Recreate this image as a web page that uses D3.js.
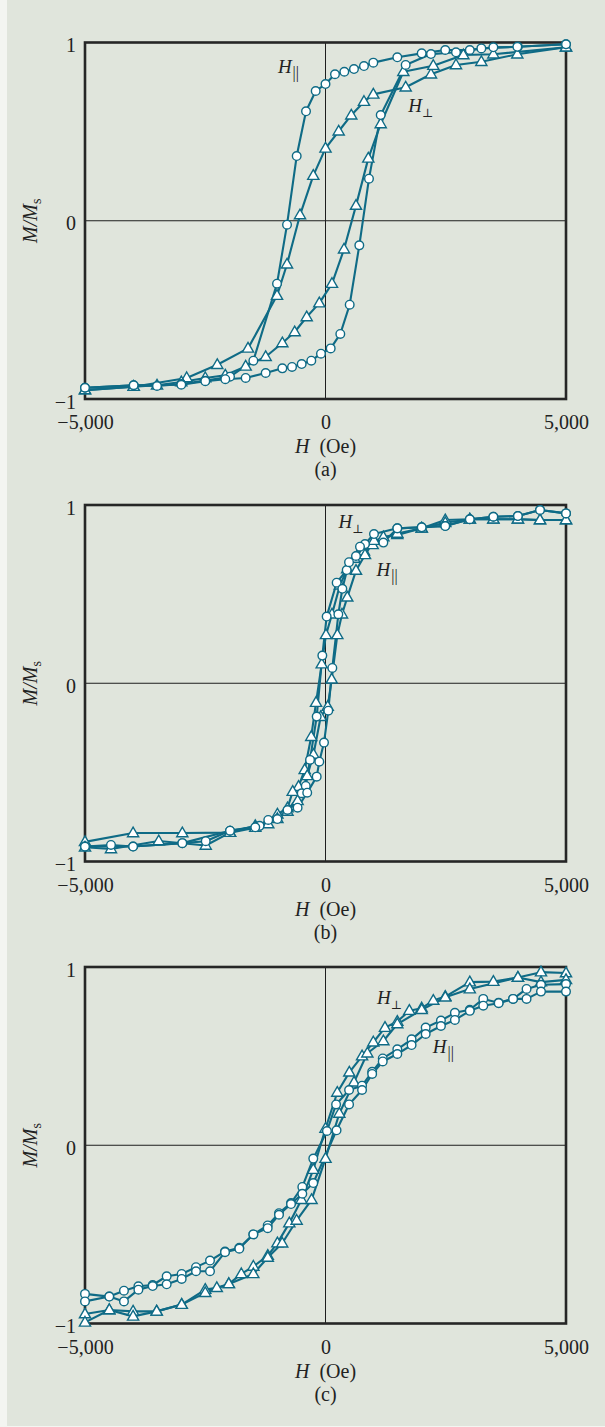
<!DOCTYPE html>
<html>
<head>
<meta charset="utf-8">
<script src="https://cdn.jsdelivr.net/npm/d3@7"></script>
<style>
  html, body { margin: 0; padding: 0; background: #f3f5f1; }
  svg { display: block; }
</style>
</head>
<body>
<script>
// Hysteresis loops M/Ms vs H for fields parallel (circles) and perpendicular (triangles).
// Each branch is a list of [H (Oe), M/Ms] pairs.

// ---- panel (a) ----
const parA_down = [[5000,0.99],[4000,0.976],[3490,0.973],[3000,0.958],[2490,0.958],[2000,0.939],[1493,0.917],[994,0.887],[800,0.868],[592,0.851],[391,0.836],[197,0.822],[0,0.767],[-204,0.728],[-405,0.614],[-599,0.363],[-800,-0.022],[-1008,-0.353],[-1500,-0.785],[-1985,-0.875],[-2499,-0.897],[-2998,-0.916],[-3503,-0.927],[-3988,-0.923],[-5000,-0.937]];
const parA_up = [[-5000,-0.937],[-3988,-0.923],[-2998,-0.92],[-2499,-0.9],[-2083,-0.889],[-1660,-0.882],[-1244,-0.854],[-897,-0.828],[-696,-0.82],[-495,-0.804],[-295,-0.785],[-94,-0.746],[108,-0.716],[308,-0.635],[503,-0.471],[703,-0.138],[904,0.236],[1148,0.593],[1667,0.874],[2193,0.935],[2713,0.945],[3240,0.967],[3988,0.976],[5000,0.99]];
const perpA_down = [[5000,0.973],[3988,0.934],[3240,0.892],[2713,0.874],[2193,0.822],[1667,0.749],[994,0.709],[800,0.668],[536,0.592],[274,0.502],[0,0.406],[-254,0.253],[-530,0.032],[-800,-0.244],[-1008,-0.42],[-1611,-0.716],[-2250,-0.808],[-2886,-0.882],[-3988,-0.931],[-5000,-0.95]];
const perpA_up = [[-5000,-0.95],[-3988,-0.931],[-3503,-0.923],[-2998,-0.905],[-2499,-0.882],[-2083,-0.867],[-1660,-0.817],[-1244,-0.763],[-897,-0.686],[-641,-0.624],[-391,-0.54],[-129,-0.462],[135,-0.353],[385,-0.16],[634,0.085],[890,0.35],[1148,0.543],[1618,0.836],[2241,0.87],[2866,0.93],[3490,0.934],[5000,0.973]];

// ---- panel (b) ----
const parB_down = [[5000,0.953],[4460,0.972],[4000,0.938],[3490,0.934],[3000,0.92],[2490,0.882],[2000,0.875],[1493,0.869],[1008,0.837],[821,0.781],[634,0.714],[441,0.635],[232,0.564],[24,0.374],[-66,0.155],[-183,-0.187],[-322,-0.43],[-410,-0.576],[-495,-0.617],[-790,-0.711],[-1000,-0.762],[-1370,-0.8],[-1985,-0.827],[-2977,-0.897],[-4000,-0.916],[-5000,-0.916]];
const parB_up = [[-5000,-0.916],[-4460,-0.907],[-4000,-0.916],[-2977,-0.897],[-2490,-0.886],[-1985,-0.827],[-1460,-0.808],[-1190,-0.767],[-580,-0.698],[-380,-0.614],[-183,-0.524],[-129,-0.44],[-31,-0.333],[58,-0.154],[142,0.086],[267,0.387],[350,0.53],[489,0.679],[717,0.766],[1203,0.789],[1493,0.869],[2000,0.875],[2490,0.882],[3000,0.92],[3490,0.934],[4000,0.938],[4460,0.972],[5000,0.953]];
const perpB_down = [[5000,0.916],[4460,0.916],[4000,0.92],[3490,0.92],[3000,0.92],[2490,0.916],[2000,0.869],[1493,0.832],[1203,0.82],[980,0.776],[800,0.74],[600,0.7],[450,0.64],[300,0.55],[135,0.387],[10,0.271],[-79,0.107],[-197,-0.109],[-297,-0.3],[-433,-0.486],[-560,-0.58],[-682,-0.608],[-790,-0.7],[-1000,-0.735],[-1190,-0.79],[-1460,-0.8],[-1985,-0.838],[-2977,-0.84],[-4000,-0.84],[-5000,-0.89]];
const perpB_up = [[-5000,-0.92],[-4460,-0.93],[-3467,-0.885],[-2490,-0.91],[-1985,-0.838],[-1460,-0.81],[-1000,-0.76],[-790,-0.72],[-580,-0.66],[-380,-0.52],[-250,-0.4],[-100,-0.188],[46,-0.131],[129,0.022],[246,0.271],[343,0.387],[453,0.482],[634,0.632],[821,0.72],[1008,0.8],[1493,0.84],[2000,0.869],[2490,0.9],[3000,0.92],[3490,0.92],[4000,0.92],[4460,0.916],[5000,0.916]];

// ---- panel (c) ----
const parC_down = [[5000,0.904],[4480,0.9],[4180,0.877],[3900,0.821],[3600,0.8],[3280,0.821],[3000,0.76],[2690,0.743],[2400,0.7],[2083,0.66],[1790,0.594],[1493,0.538],[1190,0.487],[970,0.412],[760,0.334],[490,0.31],[220,0.229],[30,0.08],[-254,-0.075],[-482,-0.234],[-717,-0.324],[-967,-0.381],[-1202,-0.45],[-1500,-0.5],[-1792,-0.575],[-2089,-0.596],[-2401,-0.647],[-2692,-0.684],[-2990,-0.722],[-3302,-0.735],[-3593,-0.784],[-3890,-0.791],[-4190,-0.816],[-4495,-0.849],[-5000,-0.834]];
const parC_up = [[-5000,-0.876],[-4495,-0.849],[-4190,-0.876],[-3890,-0.81],[-3593,-0.79],[-3302,-0.78],[-2990,-0.75],[-2692,-0.707],[-2401,-0.707],[-2089,-0.6],[-1792,-0.58],[-1500,-0.5],[-1202,-0.465],[-967,-0.39],[-717,-0.33],[-482,-0.272],[-254,-0.212],[230,0.084],[490,0.229],[760,0.31],[970,0.4],[1190,0.47],[1493,0.512],[1790,0.562],[2083,0.624],[2400,0.669],[2690,0.703],[3000,0.754],[3280,0.783],[3600,0.797],[3900,0.821],[4180,0.821],[4480,0.862],[5000,0.862]];
const perpC_down = [[5000,0.966],[4480,0.971],[4000,0.941],[3490,0.918],[3000,0.915],[2490,0.834],[2241,0.812],[2000,0.769],[1743,0.755],[1493,0.694],[1237,0.66],[994,0.578],[760,0.5],[495,0.409],[245,0.296],[0,0.094],[-254,-0.137],[-500,-0.306],[-752,-0.437],[-1000,-0.549],[-1200,-0.619],[-1500,-0.68],[-1750,-0.722],[-2010,-0.778],[-2260,-0.8],[-2500,-0.81],[-2990,-0.894],[-3510,-0.932],[-4000,-0.932],[-4495,-0.924],[-5000,-0.947]];
const perpC_up = [[-5000,-0.994],[-4495,-0.924],[-4000,-0.96],[-3510,-0.932],[-2990,-0.894],[-2500,-0.828],[-2010,-0.778],[-1500,-0.722],[-1200,-0.63],[-900,-0.55],[-600,-0.422],[-290,-0.306],[0,-0.075],[287,0.178],[593,0.353],[870,0.516],[1203,0.585],[1493,0.68],[2000,0.76],[2490,0.83],[3000,0.876],[4000,0.941],[4480,0.915],[5000,0.928]];

// axis ticks and captions
const xTicks = [-5000, 0, 5000];
const yTicks = [-1, 0, 1];
const panelCaptions = ["(a)", "(b)", "(c)"];

// curve labels, anchored in data units: [H, M]
const labelPar = [[-990, 0.83], [1060, 0.60], [2230, 0.52]];
const labelPerp = [[1720, 0.61], [270, 0.87], [1070, 0.79]];

const panels = [
  { par: [parA_down, parA_up], perp: [perpA_down, perpA_up] },
  { par: [parB_down, parB_up], perp: [perpB_down, perpB_up] },
  { par: [parC_down, parC_up], perp: [perpC_down, perpC_up] }
];

const W = 605, H = 1427;
const ink = "#0f6b86";
const serif = "'Liberation Serif', 'Times New Roman', serif";

const svg = d3.select("body").append("svg").attr("width", W).attr("height", H);
svg.append("rect").attr("x", 0).attr("y", 0).attr("width", W).attr("height", H).attr("fill", "#f3f5f1");
svg.append("rect").attr("x", 7).attr("y", 0).attr("width", W - 7).attr("height", H - 1).attr("fill", "#e0e5dc");

const plotLeft = 85, plotRight = 566, plotH = 356.5;
const tops = [42.5, 505, 967];

const minusFmt = d => d === 0 ? "0" : (d < 0 ? "\u2212" : "") + d3.format(",")(Math.abs(d));

panels.forEach((p, i) => {
  const top = tops[i], bottom = top + plotH;
  const x = d3.scaleLinear().domain([-5000, 5000]).range([plotLeft, plotRight]);
  const y = d3.scaleLinear().domain([-1, 1]).range([bottom, top]);
  const g = svg.append("g");

  // zero lines
  g.append("line").attr("x1", plotLeft).attr("x2", plotRight).attr("y1", y(0)).attr("y2", y(0))
    .attr("stroke", "#1e1e1e").attr("stroke-width", 1);
  g.append("line").attr("x1", x(0)).attr("x2", x(0)).attr("y1", top).attr("y2", bottom)
    .attr("stroke", "#1e1e1e").attr("stroke-width", 1);

  // frame
  g.append("rect").attr("x", plotLeft).attr("y", top).attr("width", plotRight - plotLeft).attr("height", plotH)
    .attr("fill", "none").attr("stroke", "#262626").attr("stroke-width", 2.6);

  // axes (labels only)
  const ax = g.append("g").attr("transform", `translate(${plotLeft},0)`)
    .call(d3.axisLeft(y).tickValues(yTicks).tickSize(0).tickPadding(9).tickFormat(minusFmt));
  const bx = g.append("g").attr("transform", `translate(0,${bottom})`)
    .call(d3.axisBottom(x).tickValues(xTicks).tickSize(0).tickPadding(16).tickFormat(minusFmt));
  [ax, bx].forEach(a => {
    a.select(".domain").remove();
    a.selectAll("text").attr("font-family", serif).attr("font-size", 20).attr("fill", "#222");
  });
  ax.selectAll("text").attr("dy", "0.45em");

  // x-axis title and caption
  const xt = g.append("text").attr("x", x(0)).attr("y", bottom + 54).attr("text-anchor", "middle")
    .attr("font-family", serif).attr("font-size", 20).attr("fill", "#222");
  xt.append("tspan").attr("font-style", "italic").text("H");
  xt.append("tspan").text("\u2002(Oe)");
  g.append("text").attr("x", x(0)).attr("y", bottom + 77).attr("text-anchor", "middle")
    .attr("font-family", serif).attr("font-size", 20).attr("fill", "#222").text(panelCaptions[i]);

  // y-axis title
  const yt = g.append("text").attr("transform", `translate(37,${y(0)}) rotate(-90)`).attr("text-anchor", "middle")
    .attr("font-family", serif).attr("font-size", 20).attr("fill", "#222");
  yt.append("tspan").attr("font-style", "italic").text("M/M");
  yt.append("tspan").attr("font-size", 14).attr("dy", "0.3em").text("s");

  // curves
  const line = d3.line().x(d => x(d[0])).y(d => y(d[1]));
  const branches = [...p.par, ...p.perp];
  g.selectAll("path.branch").data(branches).join("path").attr("class", "branch")
    .attr("d", line).attr("fill", "none").attr("stroke", ink).attr("stroke-width", 2.1)
    .attr("stroke-linejoin", "round");

  const tri = d3.symbol().type(d3.symbolTriangle).size(54);
  p.perp.forEach(br => {
    g.append("g").selectAll("path").data(br).join("path")
      .attr("d", tri).attr("transform", d => `translate(${x(d[0])},${y(d[1]) + 0.5})`)
      .attr("fill", "#fff").attr("stroke", ink).attr("stroke-width", 1.4);
  });
  p.par.forEach(br => {
    g.append("g").selectAll("circle").data(br).join("circle")
      .attr("cx", d => x(d[0])).attr("cy", d => y(d[1])).attr("r", 4.3)
      .attr("fill", "#fff").attr("stroke", ink).attr("stroke-width", 1.4);
  });

  // curve labels
  const lp = g.append("text").attr("x", x(labelPar[i][0])).attr("y", y(labelPar[i][1]))
    .attr("font-family", serif).attr("font-size", 19).attr("fill", "#222");
  lp.append("tspan").attr("font-style", "italic").text("H");
  lp.append("tspan").attr("font-size", 16).attr("dy", 5).attr("dx", 1).text("||");
  const lq = g.append("text").attr("x", x(labelPerp[i][0])).attr("y", y(labelPerp[i][1]))
    .attr("font-family", serif).attr("font-size", 19).attr("fill", "#222");
  lq.append("tspan").attr("font-style", "italic").text("H");
  lq.append("tspan").attr("font-family", "'DejaVu Serif', serif").attr("font-size", 12).attr("dy", 5).text("\u22A5");
});
</script>
</body>
</html>
